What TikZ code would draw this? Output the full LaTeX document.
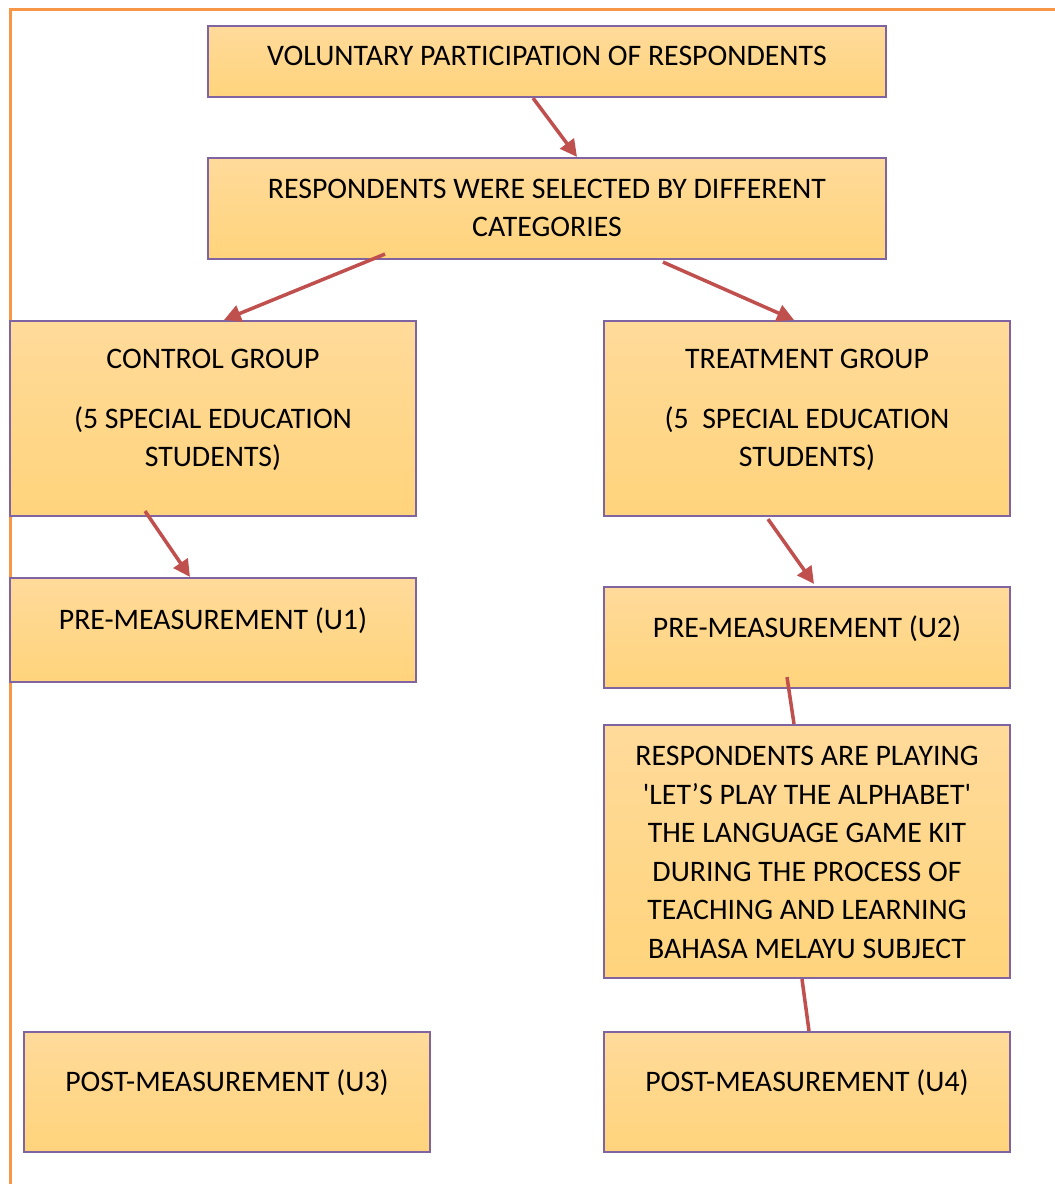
\documentclass[tikz,border=0pt]{standalone}
\usepackage{fontspec}
\setmainfont{Carlito}[Ligatures=TeXOff]
\usetikzlibrary{arrows.meta, calc}
\definecolor{frameorange}{RGB}{247,150,70}
\definecolor{boxline}{RGB}{128,100,162}
\definecolor{boxtop}{RGB}{255,218,154}
\definecolor{boxbot}{RGB}{255,212,124}
\definecolor{flowred}{RGB}{192,80,77}
\tikzset{
  stagebox/.style={draw=boxline, line width=1.5pt, top color=boxtop, bottom color=boxbot, inner sep=0pt},
  stagetext/.style={align=center, inner sep=0pt, font=\fontsize{21.2}{27.4}\selectfont},
  flow/.style={-{Triangle[length=12pt, width=12pt]}, draw=flowred, line width=2.5pt},
  link/.style={draw=flowred, line width=2.5pt},
  frame/.style={draw=frameorange, line width=1.8pt}
}

\begin{document}
\begin{tikzpicture}[x=0.025cm, y=-0.025cm]
        \useasboundingbox (0,0) rectangle (1054,1184);
        \draw[frame] (1070,9.5) -- (10.5,9.5) -- (10.5,1200);
        % boxes
        \node[stagebox, minimum width=16.95cm, minimum height=1.775cm] (vol)   at (547, 61.5) {};
        \node[stagebox, minimum width=16.95cm, minimum height=2.525cm] (sel)   at (547,208.5) {};
        \node[stagebox, minimum width=10.15cm, minimum height=4.875cm] (ctrl)  at (213,418.5) {};
        \node[stagebox, minimum width=10.15cm, minimum height=4.875cm] (treat) at (807,418.5) {};
        \node[stagebox, minimum width=10.15cm, minimum height=2.6cm]   (pre1)  at (213,630) {};
        \node[stagebox, minimum width=10.15cm, minimum height=2.525cm] (pre2)  at (807,637.5) {};
        \node[stagebox, minimum width=10.15cm, minimum height=6.325cm] (play)  at (807,851.5) {};
        \node[stagebox, minimum width=10.15cm, minimum height=3cm]     (post3) at (227,1092) {};
        \node[stagebox, minimum width=10.15cm, minimum height=3cm]     (post4) at (807,1092) {};
        % texts
        \node[stagetext] (vol-t)   at (547, 56)   {VOLUNTARY PARTICIPATION OF RESPONDENTS};
        \node[stagetext] (sel-t)   at (547,208) {RESPONDENTS WERE SELECTED BY DIFFERENT\\CATEGORIES};
        \node[stagetext] (ctrl-t)  at (213,410)   {CONTROL GROUP\\[15pt](5 SPECIAL EDUCATION\\STUDENTS)};
        \node[stagetext] (treat-t) at (807,410)   {TREATMENT GROUP\\[15pt](5~ SPECIAL EDUCATION\\STUDENTS)};
        \node[stagetext] (pre1-t)  at (213,621)   {PRE-MEASUREMENT (U1)};
        \node[stagetext] (pre2-t)  at (807,629)   {PRE-MEASUREMENT (U2)};
        \node[stagetext] (play-t)  at (807,852.5) {RESPONDENTS ARE PLAYING\\'LET’S PLAY THE ALPHABET'\\THE LANGUAGE GAME KIT\\DURING THE PROCESS OF\\TEACHING AND LEARNING\\BAHASA MELAYU SUBJECT};
        \node[stagetext] (post3-t) at (227,1083)  {POST-MEASUREMENT (U3)};
        \node[stagetext] (post4-t) at (807,1083)  {POST-MEASUREMENT (U4)};
        % connectors
        \draw[flow] ($(vol.south)+(-14,0)$) -- ($(sel.north)+(30,0)$);
        \draw[flow] ($(sel.south)+(-162,-6)$) -- ($(ctrl.north)+(11,0)$);
        \draw[flow] ($(sel.south)+(116,2)$) -- ($(treat.north)+(-13,0)$);
        \draw[flow] ($(ctrl.south)+(-68,-6)$) -- ($(pre1.north)+(-23,0)$);
        \draw[flow] ($(treat.south)+(-39,2)$) -- ($(pre2.north)+(7,-2)$);
        \draw[link] ($(pre2.south)+(-20,-12)$) -- ($(play.north)+(-13,0)$);
        \draw[link] ($(play.south)+(-5,0)$) -- ($(post4.north)+(2,0)$);
\end{tikzpicture}
\end{document}
